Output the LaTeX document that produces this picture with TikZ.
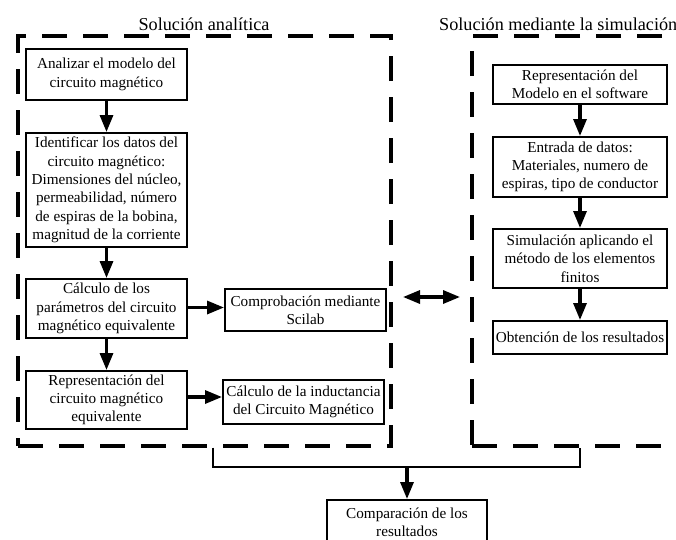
\documentclass[tikz,border=0pt]{standalone}
\usepackage{fontspec}
\setmainfont{Liberation Serif}
\usetikzlibrary{arrows.meta}
\begin{document}
\begin{tikzpicture}[x=1pt,y=-1pt,
  box/.style={draw,line width=2pt,align=center,inner sep=1pt,
    font=\fontsize{15.2}{18.3}\selectfont},
  panel/.style={draw,line width=3.2pt,dash pattern=on 25pt off 16pt,minimum width=#1,minimum height=410pt,inner sep=0pt},
  flow/.style={line width=3.2pt,-{Triangle[length=17pt,width=13pt]}},
  link/.style={line width=2.6pt},
  title/.style={font=\fontsize{18.2}{20}\selectfont,inner sep=0pt}]
\useasboundingbox (0,0) rectangle (676,539);
\clip (0,0) rectangle (676,539);
% panels
\node[panel=373pt] (lp) at (204.5,241) {};
\node[panel=300pt] (rp) at (622,241) {};
\node[title] (lt) at (204,24) {Solución analítica};
\node[title,anchor=west] (rt) at (439,24) {Solución mediante la simulación};
% left column
\node[box,minimum width=161pt,minimum height=51pt] (a) at (106.5,74.5) {Analizar el modelo del\\circuito magnético};
\node[box,minimum width=161pt,minimum height=114pt] (b) at (106.5,190) {Identificar los datos del\\circuito magnético:\\Dimensiones del núcleo,\\permeabilidad, número\\de espiras de la bobina,\\magnitud de la corriente};
\node[box,minimum width=161pt,minimum height=59pt] (c) at (106.5,308.5) {Cálculo de los\\parámetros del circuito\\magnético equivalente};
\node[box,minimum width=161pt,minimum height=58pt] (d) at (106.5,400) {Representación del\\circuito magnético\\equivalente};
\node[box,minimum width=161pt,minimum height=42pt] (e) at (305.5,310) {Comprobación mediante\\Scilab};
\node[box,minimum width=161pt,minimum height=44pt] (f) at (303.5,402) {Cálculo de la inductancia\\del Circuito Magnético};
% right column
\node[box,minimum width=174pt,minimum height=39pt] (g) at (580,84.5) {Representación del\\Modelo en el software};
\node[box,minimum width=174pt,minimum height=60pt] (h) at (580,167) {Entrada de datos:\\Materiales, numero de\\espiras, tipo de conductor};
\node[box,minimum width=174pt,minimum height=59pt] (i) at (580,258.5) {Simulación aplicando el\\método de los elementos\\finitos};
\node[box,minimum width=174pt,minimum height=33pt] (j) at (580,337.5) {Obtención de los resultados};
% bottom
\node[box,minimum width=160pt,minimum height=44pt] (k) at (407,522) {Comparación de los\\resultados};
% arrows
\draw[flow] (a) -- (b);
\draw[flow] (b) -- (c);
\draw[flow] (c) -- (d);
\draw[flow] (c.east) ++(0,-1) -- (e.west |- 0,307.5);
\draw[flow] (d.east) ++(0,-3) -- (f.west |- 0,397);
\draw[flow] (g) -- (h);
\draw[flow] (h) -- (i);
\draw[flow] (i) -- (j);
\coordinate (dl) at (403,297);
\coordinate (dr) at (460,297);
\draw[line width=3.2pt,{Triangle[length=17pt,width=13pt]}-{Triangle[length=17pt,width=13pt]}] (dl) -- (dr);
\coordinate (jl) at (213,467);
\coordinate (jr) at (580,467);
\coordinate (jm) at (407,467);
\draw[link] (lp.south -| jl) -- (jl) -- (jr) -- (rp.south -| jr);
\draw[flow] (jm) -- (k.north);
\end{tikzpicture}
\end{document}
